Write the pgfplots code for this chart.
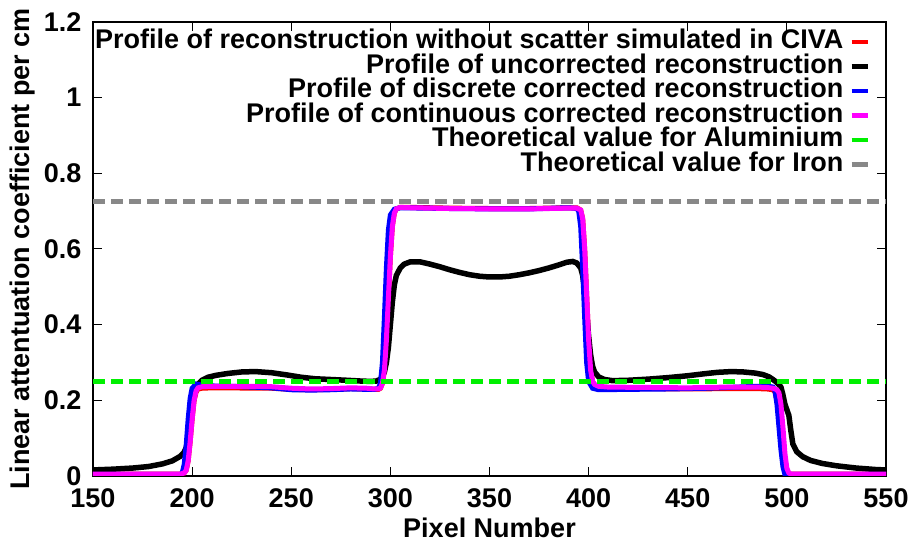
\documentclass[border=0pt]{standalone}
\usepackage{pgfplots}
\pgfplotsset{compat=1.18}
\usepackage{fontspec}
\setmainfont{Liberation Sans}
\definecolor{iron}{RGB}{136,136,136}
\definecolor{alu}{RGB}{0,240,0}
\definecolor{mag}{RGB}{255,0,255}
\definecolor{pblue}{RGB}{0,0,255}
\definecolor{pred}{RGB}{255,0,0}
\newcommand\ff{\fontsize{27}{27}\selectfont\bfseries}

\pgfplotstableread{
x y
150 0.005
194 0.005
196 0.008
197 0.015
198 0.04
199 0.09
200 0.15
201 0.20
202 0.222
203 0.230
205 0.232
210 0.233
220 0.233
230 0.232
240 0.232
250 0.229
260 0.228
270 0.229
280 0.231
288 0.230
292 0.229
294 0.229
295 0.232
296 0.245
297 0.28
298 0.36
299 0.47
300 0.58
301 0.66
302 0.695
303 0.706
305 0.710
310 0.710
330 0.708
350 0.707
370 0.707
390 0.709
394 0.709
396 0.703
397 0.68
398 0.60
399 0.48
400 0.36
401 0.28
402 0.25
403 0.240
405 0.234
410 0.232
430 0.231
450 0.230
470 0.231
485 0.231
490 0.230
493 0.228
494 0.222
495 0.200
496 0.166
497 0.155
497.6 0.12
498 0.07
499 0.02
500 0.008
501 0.005
550 0.005
}\redtab

\pgfplotstableread{
x y
150 0.016
160 0.018
170 0.021
178 0.025
185 0.032
190 0.040
194 0.052
196 0.063
197 0.075
198 0.10
199 0.14
200 0.18
201 0.21
202 0.23
203 0.243
205 0.253
208 0.261
212 0.266
218 0.271
225 0.275
232 0.276
240 0.273
248 0.267
255 0.261
262 0.257
270 0.255
278 0.253
285 0.251
290 0.250
293 0.251
295 0.256
297 0.275
298 0.30
299 0.34
300 0.40
301 0.46
302 0.505
303 0.53
305 0.55
307 0.56
310 0.566
315 0.566
320 0.560
325 0.553
330 0.545
335 0.538
340 0.532
345 0.528
350 0.526
355 0.526
360 0.528
365 0.532
370 0.537
375 0.543
380 0.550
385 0.558
389 0.565
392 0.567
394 0.563
396 0.55
397 0.53
398 0.49
399 0.43
400 0.37
401 0.32
402 0.29
403 0.275
405 0.262
408 0.255
412 0.252
420 0.253
430 0.256
440 0.260
450 0.265
458 0.270
465 0.274
472 0.276
478 0.275
484 0.272
488 0.268
491 0.262
493 0.255
495 0.247
497 0.235
498 0.215
499 0.19
500 0.175
501 0.16
502 0.12
503 0.085
505 0.064
508 0.051
512 0.041
518 0.033
525 0.027
535 0.021
545 0.017
550 0.016
}\blacktab

\pgfplotstableread{
x y
150 0.004
194 0.004
195 0.008
196 0.03
197 0.08
198 0.15
199 0.205
200 0.232
202 0.243
205 0.240
210 0.238
220 0.237
230 0.235
240 0.233
250 0.228
260 0.227
270 0.228
280 0.230
288 0.229
292 0.229
294 0.232
295 0.245
296 0.30
297 0.42
298 0.55
299 0.65
300 0.69
302 0.705
305 0.709
330 0.707
350 0.706
370 0.706
390 0.709
394 0.707
395 0.70
396 0.66
397 0.55
398 0.42
399 0.30
400 0.25
402 0.232
405 0.228
420 0.229
440 0.230
460 0.232
480 0.236
490 0.238
493 0.235
494 0.225
495 0.19
496 0.13
497 0.07
498 0.025
499 0.004
550 0.004
}\bluetab

\pgfplotstableread{
x y
150 0.005
194 0.005
196 0.008
197 0.015
198 0.04
199 0.09
200 0.15
201 0.20
202 0.225
203 0.233
205 0.236
210 0.237
220 0.237
230 0.237
240 0.236
250 0.232
260 0.230
270 0.231
280 0.233
288 0.232
292 0.230
294 0.230
295 0.233
296 0.245
297 0.28
298 0.36
299 0.47
300 0.58
301 0.66
302 0.695
303 0.706
305 0.710
310 0.709
330 0.707
350 0.706
370 0.706
390 0.708
394 0.708
396 0.703
397 0.68
398 0.60
399 0.48
400 0.36
401 0.28
402 0.25
403 0.242
405 0.237
410 0.235
430 0.234
450 0.233
470 0.235
485 0.235
490 0.234
493 0.232
495 0.228
496 0.220
497 0.19
498 0.13
499 0.06
500 0.02
501 0.008
502 0.005
550 0.005
}\magtab

\begin{document}
\begin{tikzpicture}
\begin{axis}[
  name=ax,
  scale only axis,
  width=793pt, height=454pt,
  xmin=150, xmax=550, ymin=0, ymax=1.2,
  xtick={150,200,...,550},
  ytick={0,0.2,0.4,0.6,0.8,1,1.2},
  tick pos=both,
  tick align=inside,
  major tick length=9pt,
  every tick/.style={black,line width=1pt},
  axis line style={line width=1.2pt},
  /pgf/number format/assume math mode=true,
  /pgf/number format/fixed,
  ticklabel style={font=\ff,inner sep=1pt},
  xticklabel style={yshift=-11.3pt},
  yticklabel style={xshift=-10.3pt},
  xlabel={Pixel Number},
  ylabel={Linear attentuation coefficient per cm},
  every axis x label/.style={at={(axis description cs:0.5,0)},anchor=center,yshift=-52pt,font=\ff},
  every axis y label/.style={at={(axis description cs:-0.0895,0.5)},anchor=center,rotate=90,font=\ff},
  legend plot pos=right,
  legend cell align=right,
  legend style={draw=none,fill=none,at={(1,1)},anchor=north east,xshift=-16pt,yshift=-7.5pt,
    inner sep=0pt,row sep=0pt,column sep=6pt,
    nodes={font=\ff,text height=19pt,text depth=5.5pt,inner ysep=0pt,inner xsep=0pt}},
  legend image code/.code={\draw[#1,solid,line width=4.5pt] (0pt,0pt) -- (16pt,0pt);},
]
\addplot[pred,line width=5pt] table[x=x,y=y]{\redtab};
\addlegendentry{Profile of reconstruction without scatter simulated in CIVA}
\addplot[black,line width=5.5pt] table[x=x,y=y]{\blacktab};
\addlegendentry{Profile of uncorrected reconstruction\hspace{7.5pt}}
\addplot[pblue,line width=5pt] table[x=x,y=y]{\bluetab};
\addlegendentry{Profile of discrete corrected reconstruction}
\addplot[mag,line width=5pt] table[x=x,y=y]{\magtab};
\addlegendentry{Profile of continuous corrected reconstruction}
\addplot[alu,line width=5pt,dash pattern=on 12pt off 6pt] coordinates {(150,0.25) (550,0.25)};
\addlegendentry{Theoretical value for Aluminium}
\addplot[iron,line width=5pt,dash pattern=on 12pt off 6pt] coordinates {(150,0.726) (550,0.726)};
\addlegendentry{Theoretical value for Iron}
\end{axis}
\pgfresetboundingbox
\path[use as bounding box] ([shift={(-93pt,-66pt)}]ax.south west) rectangle ([shift={(26pt,22pt)}]ax.north east);
\end{tikzpicture}
\end{document}
